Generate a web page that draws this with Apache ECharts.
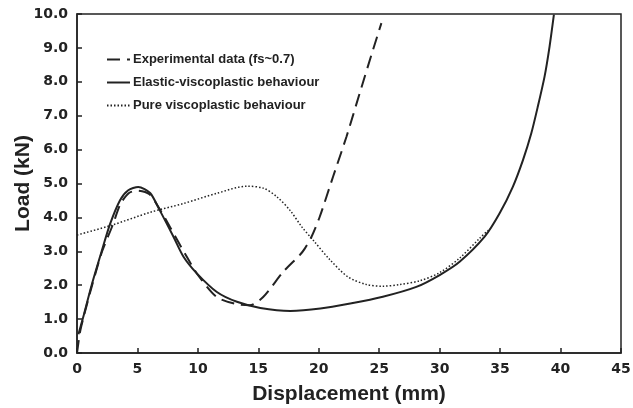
<!DOCTYPE html>
<html>
<head>
<meta charset="utf-8">
<script src="https://cdn.jsdelivr.net/npm/echarts@6/dist/echarts.min.js"></script>
<style>
  html, body { margin: 0; padding: 0; background: #fff; }
  #chart { width: 633px; height: 408px; }
</style>
</head>
<body>
<div id="chart"></div>
<script>
// legend names
const seriesNames = ['Experimental data (fs~0.7)', 'Elastic-viscoplastic behaviour', 'Pure viscoplastic behaviour']

// experimental data (dashed)
const expX = [0, 0.25, 0.5, 1.25, 2.08, 2.95, 3.6, 4.3, 5.05, 6.0, 6.9, 7.69, 8.9, 10.0, 11.57, 13.2, 14.3, 15.4, 17.05, 18.43, 18.84, 19.4, 20.08, 21.18, 22.29, 23.39, 24.49, 25.18]
const expY = [0, 0.62, 1.0, 2.0, 3.0, 3.77, 4.4, 4.72, 4.79, 4.68, 4.21, 3.72, 2.95, 2.3, 1.65, 1.44, 1.41, 1.65, 2.39, 2.89, 3.08, 3.43, 4.02, 5.2, 6.38, 7.67, 8.95, 9.73]

// elastic-viscoplastic (solid)
const evpX = [0.12, 0.47, 1.21, 2.04, 2.73, 3.55, 4.24, 5.07, 6.05, 6.86, 7.98, 8.81, 9.91, 11.57, 13.23, 15.16, 17.65, 20.13, 22.6, 25.3, 28.07, 30.0, 31.65, 33.72, 34.96, 36.06, 36.89, 37.58, 38.12, 38.68, 39.09, 39.45]
const evpY = [0.55, 1.0, 2.0, 3.0, 3.8, 4.5, 4.8, 4.9, 4.72, 4.2, 3.43, 2.84, 2.35, 1.8, 1.51, 1.33, 1.24, 1.31, 1.46, 1.66, 1.95, 2.3, 2.69, 3.43, 4.12, 4.91, 5.69, 6.48, 7.27, 8.16, 9.04, 9.98]

// pure viscoplastic (dotted)
const pvX = [0, 2.87, 6.05, 8.81, 11.57, 14.05, 15.43, 16.53, 17.64, 18.6, 19.6, 20.9, 22.4, 23.94, 25.3, 26.7, 28.35, 30.0, 31.65, 33.3, 34.0]
const pvY = [3.48, 3.77, 4.15, 4.41, 4.71, 4.92, 4.86, 4.61, 4.2, 3.72, 3.3, 2.76, 2.25, 2.02, 1.97, 2.02, 2.13, 2.37, 2.8, 3.38, 3.62]

const pair = (xs, ys) => xs.map((x, i) => [x, ys[i]])

const ink = '#222'
const chart = echarts.init(document.getElementById('chart'))

const option = {
  animation: false,
  textStyle: { fontFamily: 'Liberation Sans, Arial, sans-serif' },
  grid: {
    left: 77, right: 12, top: 14, bottom: 55,
    outerBoundsMode: 'none',
    show: true, borderColor: ink, borderWidth: 1.5, backgroundColor: 'transparent'
  },
  legend: {
    left: 101,
    top: 48,
    orient: 'vertical',
    itemWidth: 23,
    itemHeight: 14,
    itemGap: 10,
    data: seriesNames,
    itemStyle: { opacity: 0 },
    textStyle: { color: ink, fontWeight: 'bold', fontSize: 13, padding: [0, 0, 0, -2] }
  },
  xAxis: {
    type: 'value',
    min: 0,
    max: 45,
    interval: 5,
    name: 'Displacement (mm)',
    nameLocation: 'middle',
    nameGap: 31,
    nameMoveOverlap: false,
    nameTextStyle: { color: ink, fontWeight: 'bold', fontSize: 21 },
    axisLine: { lineStyle: { color: ink, width: 1.5 } },
    axisTick: { inside: true, length: 5, lineStyle: { color: ink, width: 1.5 } },
    axisLabel: { color: ink, fontWeight: 'bold', fontSize: 14, fontFamily: 'DejaVu Sans', margin: 9 },
    splitLine: { show: false }
  },
  yAxis: {
    type: 'value',
    min: 0,
    max: 10,
    interval: 1,
    name: 'Load (kN)',
    nameLocation: 'middle',
    nameGap: 43,
    nameMoveOverlap: false,
    nameTextStyle: { color: ink, fontWeight: 'bold', fontSize: 21 },
    axisLine: { show: true, lineStyle: { color: ink, width: 1.5 } },
    axisTick: { show: true, inside: true, length: 5, lineStyle: { color: ink, width: 1.5 } },
    axisLabel: { color: ink, fontWeight: 'bold', fontSize: 14, fontFamily: 'DejaVu Sans', margin: 9, formatter: v => v.toFixed(1) },
    splitLine: { show: false }
  },
  series: [
    {
      name: seriesNames[0],
      type: 'line',
      data: pair(expX, expY),
      smooth: 0.25,
      symbol: 'none',
      lineStyle: { color: ink, width: 2, type: [13, 7] },
      itemStyle: { color: ink }
    },
    {
      name: seriesNames[1],
      type: 'line',
      data: pair(evpX, evpY),
      smooth: 0.25,
      symbol: 'none',
      lineStyle: { color: ink, width: 2 },
      itemStyle: { color: ink }
    },
    {
      name: seriesNames[2],
      type: 'line',
      data: pair(pvX, pvY),
      smooth: 0.3,
      symbol: 'none',
      lineStyle: { color: ink, width: 1.5, type: [1.5, 2] },
      itemStyle: { color: ink }
    }
  ]
}

chart.setOption(option)
window.addEventListener('resize', () => chart.resize())
</script>
</body>
</html>
